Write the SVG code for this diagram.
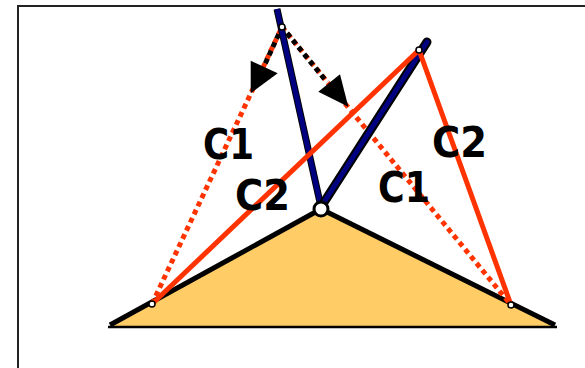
<svg xmlns="http://www.w3.org/2000/svg" width="585" height="368" viewBox="0 0 585 368">
<defs>
<style>
.frame{fill:none;stroke:#222;stroke-width:2}
.solid{stroke:#ff3300;stroke-width:5;fill:none}
.dot{stroke:#ff3300;stroke-width:5;stroke-dasharray:5 4;fill:none}
.bdot{stroke:#000;stroke-width:5;stroke-dasharray:5 4;fill:none}
.side{stroke:#000;stroke-width:5;fill:none;stroke-linecap:butt}
.pin{fill:#fff;stroke:#000;stroke-width:1.5}
.lbl{font-family:"DejaVu Sans",Verdana,sans-serif;font-weight:bold;font-size:42px;fill:#000}
</style>
</defs>
<rect class="frame" x="18" y="6" width="620" height="420"/>
<g id="ground">
<polygon points="110,327 321,209 555,327" fill="#ffcc66"/>
<line x1="108" y1="327" x2="557" y2="327" stroke="#000" stroke-width="2.5"/>
<line class="side" x1="110" y1="325" x2="321" y2="209"/>
<line class="side" x1="321" y1="209" x2="555" y2="325"/>
</g>
<g id="connectors">
<line class="dot" x1="152" y1="304" x2="282" y2="27"/>
<line class="dot" x1="282" y1="27" x2="511" y2="305"/>
<line class="bdot" x1="282" y1="27" x2="265" y2="64" stroke-dashoffset="1"/>
<line class="bdot" x1="282" y1="27" x2="327" y2="82" stroke-dashoffset="1"/>
<polygon points="250.7,60.7 277.7,73.3 250.7,93.3" fill="#000"/>
<polygon points="318.3,91.7 340,74.3 348.3,106.7" fill="#000"/>
<line x1="277" y1="9" x2="321" y2="207" stroke="#000" stroke-width="7"/>
<line x1="277" y1="9" x2="321" y2="207" stroke="#000080" stroke-width="5"/>
<line x1="321" y1="207" x2="427" y2="42" stroke="#000" stroke-width="9" stroke-linecap="round"/>
<line x1="321" y1="207" x2="427" y2="42" stroke="#000080" stroke-width="5" stroke-linecap="round"/>
<line class="solid" x1="152" y1="304" x2="419" y2="50"/>
<line class="solid" x1="419" y1="50" x2="511" y2="305"/>
</g>
<g id="labels">
<text class="lbl" x="203" y="159" textLength="51" lengthAdjust="spacingAndGlyphs">C1</text>
<text class="lbl" x="235" y="210" textLength="55" lengthAdjust="spacingAndGlyphs">C2</text>
<text class="lbl" x="378" y="202" textLength="52" lengthAdjust="spacingAndGlyphs">C1</text>
<text class="lbl" x="432" y="157" textLength="55" lengthAdjust="spacingAndGlyphs">C2</text>
</g>
<g id="joints">
<circle cx="321" cy="209" r="7" fill="#fff" stroke="#000" stroke-width="3"/>
<circle class="pin" cx="282" cy="27" r="3"/>
<circle class="pin" cx="419" cy="50" r="3"/>
<circle class="pin" cx="152" cy="304" r="3"/>
<circle class="pin" cx="511" cy="305" r="3"/>
</g>
</svg>
